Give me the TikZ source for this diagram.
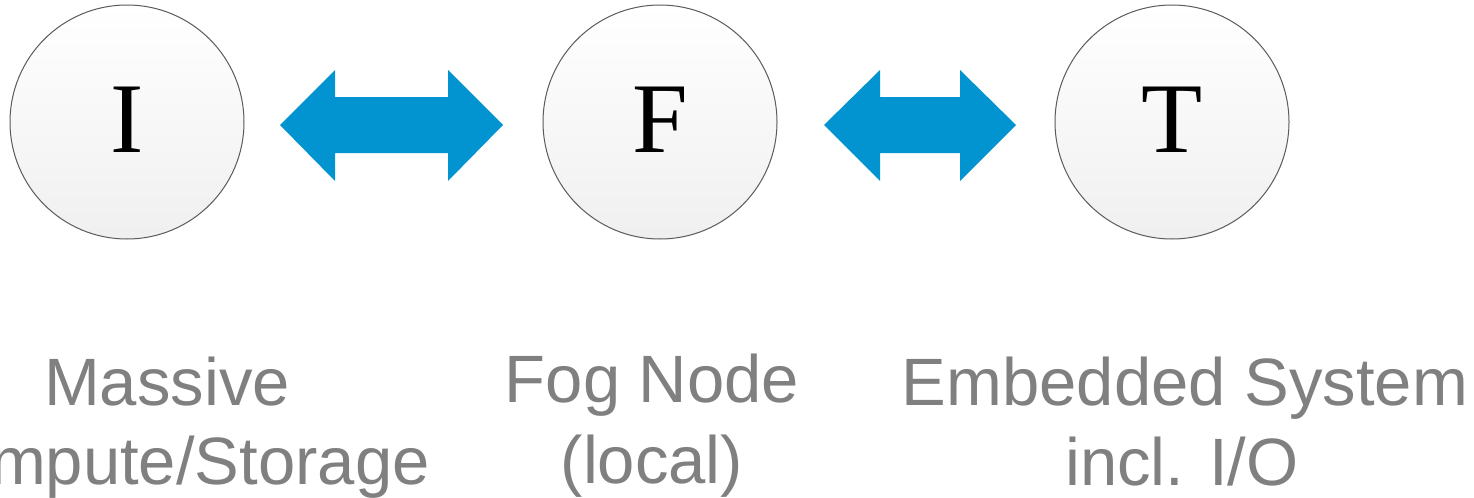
\documentclass[tikz,border=0pt]{standalone}
\usepackage{fontspec}
\setmainfont{Liberation Serif}
\newfontfamily\labelfont{Liberation Sans}
\definecolor{arrowblue}{RGB}{2,148,208}
\definecolor{labelgray}{RGB}{128,128,128}
\definecolor{rimgray}{RGB}{90,90,90}
\begin{document}
\begin{tikzpicture}[x=0.5pt,y=-0.5pt,
  layer/.style={circle, draw=rimgray, line width=0.5pt, minimum size=117pt,
    inner sep=0pt, top color=white, bottom color=black!6},
  letter/.style={anchor=base, inner sep=0pt, font=\fontsize{50}{60}\selectfont},
  caption/.style={anchor=base, inner sep=0pt, text=labelgray,
    font=\labelfont\fontsize{33.5}{40}\selectfont},
  link/.style={fill=arrowblue, draw=none}]
  \clip (0,0) rectangle (1474,498);
  \fill[white] (0,0) rectangle (1474,498);

  % tiers
  \node[layer] (I) at (127,122) {};
  \node[layer] (F) at (660,122) {};
  \node[layer] (T) at (1172,122) {};
  \node[letter] (Il) at (127,152) {I};
  \node[letter] (Fl) at (660,152) {F};
  \node[letter] (Tl) at (1172,152) {T};

  % two-way links between tiers
  \fill[link] (280,125) -- (335,70) -- (335,97) -- (448,97) -- (448,70)
    -- (503,125) -- (448,181) -- (448,153) -- (335,153) -- (335,181) -- cycle;
  \fill[link] (824,125) -- (880,70) -- (880,97) -- (960,97) -- (960,70)
    -- (1016,125) -- (960,181) -- (960,153) -- (880,153) -- (880,181) -- cycle;

  % captions
  \node[caption] (c1a) at (167,405) {Massive};
  \node[caption] (c1b) at (167,484) {Compute/Storage};
  \node[caption] (c2a) at (652,402) {Fog Node};
  \node[caption] (c2b) at (652,483) {(local)};
  \node[caption] (c3a) at (1185,405) {Embedded System};
  \node[caption] (c3b) at (1182,485) {incl. I/O};
\end{tikzpicture}
\end{document}
